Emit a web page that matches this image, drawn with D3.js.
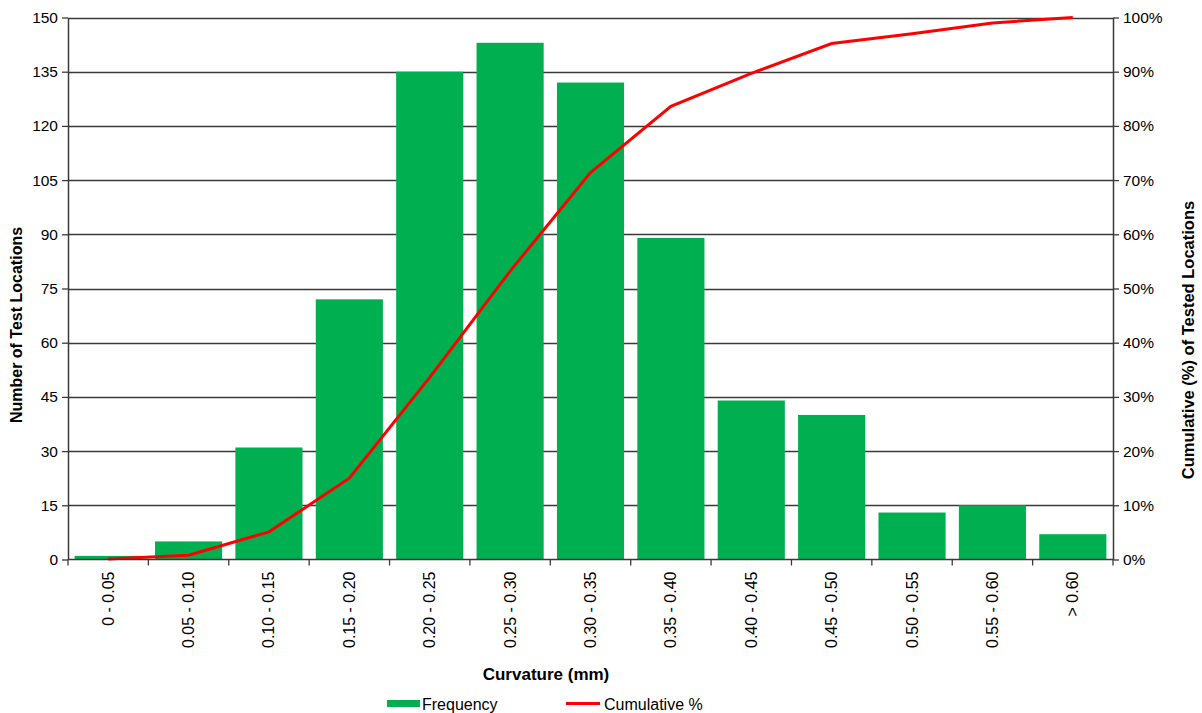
<!DOCTYPE html>
<html>
<head>
<meta charset="utf-8">
<script src="https://cdn.jsdelivr.net/npm/d3@7"></script>
<style>
  html, body { margin: 0; padding: 0; background: #fff; }
  svg { display: block; font-family: "Liberation Sans", Arial, sans-serif; }
</style>
</head>
<body>
<svg id="chart" width="1202" height="713"></svg>
<script>
// Curvature bins and counts of test locations
const categories = ["0 - 0.05", "0.05 - 0.10", "0.10 - 0.15", "0.15 - 0.20", "0.20 - 0.25",
  "0.25 - 0.30", "0.30 - 0.35", "0.35 - 0.40", "0.40 - 0.45", "0.45 - 0.50",
  "0.50 - 0.55", "0.55 - 0.60", "> 0.60"];
const frequency = [1, 5, 31, 72, 135, 143, 132, 89, 44, 40, 13, 15, 7];
const cumulativePct = [0.1, 0.8, 5.1, 15.0, 33.6, 53.2, 71.4, 83.6, 89.7, 95.2, 97.0, 99.0, 100];
const leftTicks = [0, 15, 30, 45, 60, 75, 90, 105, 120, 135, 150];
const rightTicks = [0, 10, 20, 30, 40, 50, 60, 70, 80, 90, 100];

const svg = d3.select("#chart");
const plot = { left: 68, right: 1113, top: 17.5, bottom: 559.5 };

const x = d3.scaleBand().domain(categories).range([plot.left, plot.right]).paddingInner(0.165).paddingOuter(0.0825);
const xOuter = d3.scaleBand().domain(categories).range([plot.left, plot.right]).padding(0);
const yL = d3.scaleLinear().domain([0, 150]).range([plot.bottom, plot.top]);
const yR = d3.scaleLinear().domain([0, 100]).range([plot.bottom, plot.top]);

// horizontal gridlines
svg.append("g").selectAll("line").data(leftTicks.filter(d => d > 0)).join("line")
  .attr("x1", plot.left).attr("x2", plot.right)
  .attr("y1", d => Math.round(yL(d)) + 0.5).attr("y2", d => Math.round(yL(d)) + 0.5)
  .attr("stroke", "#3a3a3a").attr("stroke-width", 1.3);

// frequency bars
svg.append("g").selectAll("rect").data(frequency).join("rect")
  .attr("x", (d, i) => x(categories[i]))
  .attr("width", x.bandwidth())
  .attr("y", d => yL(d))
  .attr("height", d => yL(0) - yL(d))
  .attr("fill", "#00b050");

// cumulative percentage line
const line = d3.line()
  .x((d, i) => xOuter(categories[i]) + xOuter.bandwidth() / 2)
  .y(d => yR(d));
svg.append("path").datum(cumulativePct)
  .attr("d", line).attr("fill", "none")
  .attr("stroke", "#ff0000").attr("stroke-width", 3).attr("stroke-linejoin", "miter");

// axes
const axisColor = "#3a3a3a";
const styleAxis = g => {
  g.select(".domain").attr("stroke", axisColor).attr("stroke-width", 1.5);
  g.selectAll(".tick line").attr("stroke", axisColor).attr("stroke-width", 1.3);
  g.selectAll("text").attr("fill", "#000").style("font-size", "15.5px")
    .style("font-family", "'Liberation Sans', Arial, sans-serif");
};

svg.append("g").attr("transform", `translate(${plot.left},0)`)
  .call(d3.axisLeft(yL).tickValues(leftTicks).tickSize(6).tickSizeOuter(0).tickPadding(4))
  .call(styleAxis);

svg.append("g").attr("transform", `translate(${plot.right},0)`)
  .call(d3.axisRight(yR).tickValues(rightTicks).tickFormat(d => d + "%").tickSize(6).tickSizeOuter(0).tickPadding(4))
  .call(styleAxis);

// x axis: ticks at bin boundaries
const xAxisG = svg.append("g").attr("transform", `translate(0,${plot.bottom})`);
xAxisG.append("line").attr("x1", plot.left).attr("x2", plot.right)
  .attr("stroke", axisColor).attr("stroke-width", 1.5);
const boundaries = categories.map(c => xOuter(c)).concat([plot.right]);
xAxisG.selectAll("line.tk").data(boundaries).join("line").attr("class", "tk")
  .attr("x1", d => d).attr("x2", d => d).attr("y1", 0).attr("y2", 6)
  .attr("stroke", axisColor).attr("stroke-width", 1.3);
xAxisG.selectAll("text").data(categories).join("text")
  .attr("transform", d => `translate(${xOuter(d) + xOuter.bandwidth() / 2 + 5.5},12) rotate(-90)`)
  .attr("text-anchor", "end")
  .style("font-size", "16px").attr("fill", "#000")
  .text(d => d);

// axis titles
svg.append("text").attr("transform", "translate(22,325) rotate(-90)")
  .attr("text-anchor", "middle").style("font-size", "16px").style("font-weight", "bold")
  .text("Number of Test Locations");
svg.append("text").attr("transform", "translate(1194,340) rotate(-90)")
  .attr("text-anchor", "middle").style("font-size", "16.5px").style("font-weight", "bold")
  .text("Cumulative (%) of Tested Locations");
svg.append("text").attr("x", 546).attr("y", 680)
  .attr("text-anchor", "middle").style("font-size", "17px").style("font-weight", "bold")
  .text("Curvature (mm)");

// legend
const legend = svg.append("g");
legend.append("rect").attr("x", 387).attr("y", 700).attr("width", 33).attr("height", 7).attr("fill", "#00b050");
legend.append("text").attr("x", 422).attr("y", 710).style("font-size", "16px").text("Frequency");
legend.append("line").attr("x1", 566).attr("x2", 600).attr("y1", 703.5).attr("y2", 703.5)
  .attr("stroke", "#ff0000").attr("stroke-width", 3);
legend.append("text").attr("x", 604).attr("y", 710).style("font-size", "16px").text("Cumulative %");
</script>
</body>
</html>
